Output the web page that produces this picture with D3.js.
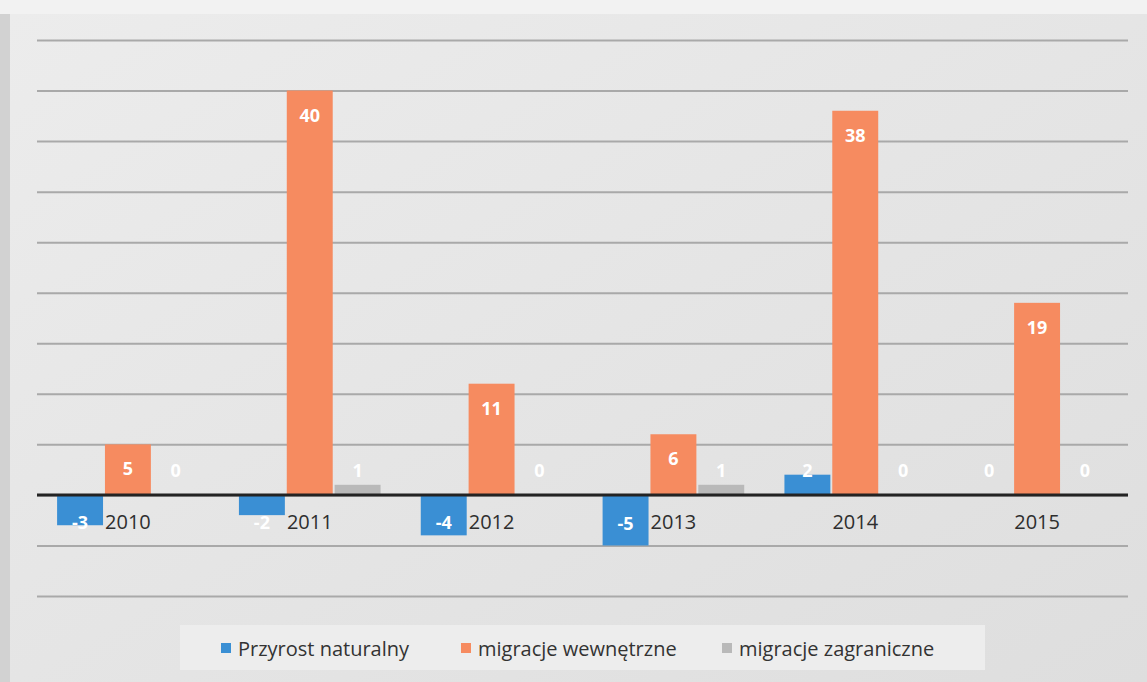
<!DOCTYPE html>
<html>
<head>
<meta charset="utf-8">
<script src="https://cdn.jsdelivr.net/npm/d3@7"></script>
<style>
  body { margin: 0; background: #e4e4e4; }
  svg { display: block; font-family: "Open Sans", Lato, sans-serif; }
  .grid line { stroke: #a9a9a9; stroke-width: 2; }
  .grid path { display: none; }
  .cats text { fill: #2e2e2e; font-size: 20px; font-family: "Open Sans", sans-serif; }
  .cats path, .cats line { display: none; }
  .lbl { fill: #fff; font-size: 18px; font-weight: bold; }
  .legend text { fill: #333; font-size: 20px; }
</style>
</head>
<body>
<svg id="chart"></svg>
<script>
// chart size
var width = 1147;
var height = 682;

// data
var years = ["2010", "2011", "2012", "2013", "2014", "2015"];
var series = ["Przyrost naturalny", "migracje wewnętrzne", "migracje zagraniczne"];
var przyrost = [-3, -2, -4, -5, 2, 0];
var wewnetrzne = [5, 40, 11, 6, 38, 19];
var zagraniczne = [0, 1, 0, 1, 0, 0];
var gridTicks = [-10, -5, 0, 5, 10, 15, 20, 25, 30, 35, 40, 45];

var values = [przyrost, wewnetrzne, zagraniczne];
var colors = ["#3a8fd4", "#f68b60", "#b9b9b9"];

var svg = d3.select("#chart")
    .attr("width", width)
    .attr("height", height);

// paper look
var grad = svg.append("defs").append("linearGradient")
    .attr("id", "paper").attr("x1", 0).attr("y1", 0).attr("x2", 1).attr("y2", 1);
grad.append("stop").attr("offset", 0).attr("stop-color", "#ececec");
grad.append("stop").attr("offset", 1).attr("stop-color", "#dedede");

svg.append("rect").attr("width", width).attr("height", height).attr("fill", "#d2d2d2");
svg.append("rect").attr("x", 10).attr("y", 14).attr("width", width - 10).attr("height", height - 14)
    .attr("fill", "url(#paper)");
svg.append("rect").attr("x", 0).attr("y", 0).attr("width", width).attr("height", 14).attr("fill", "#f2f2f2");

// scales
var x0 = d3.scaleBand()
    .domain(years)
    .range([37, 1128])
    .paddingInner(0.2)
    .paddingOuter(0.1);

var x1 = d3.scaleBand()
    .domain(series)
    .range([0, x0.bandwidth()])
    .padding(0.04);

var y = d3.scaleLinear()
    .domain([-10, 45])
    .range([596, 40]);

// gridlines
svg.append("g")
    .attr("class", "grid")
    .attr("transform", "translate(37,0)")
    .call(d3.axisLeft(y).tickValues(gridTicks).tickSize(-(1128 - 37)).tickFormat(""));

// bars
var groups = svg.append("g").selectAll("g")
    .data(years)
  .enter().append("g")
    .attr("transform", d => "translate(" + x0(d) + ",0)");

var bars = groups.selectAll("g")
    .data((d, i) => series.map((s, j) => ({ s: s, v: values[j][i], c: colors[j] })))
  .enter().append("g");

bars.append("rect")
    .attr("x", d => x1(d.s))
    .attr("width", x1.bandwidth())
    .attr("y", d => y(Math.max(0, d.v)))
    .attr("height", d => Math.abs(y(d.v) - y(0)))
    .attr("fill", d => d.c);

// zero line
svg.append("line")
    .attr("x1", 37).attr("x2", 1128)
    .attr("y1", y(0)).attr("y2", y(0))
    .attr("stroke", "#232323")
    .attr("stroke-width", 3);

// data labels (inside end)
bars.append("text")
    .attr("class", "lbl")
    .attr("text-anchor", "middle")
    .attr("dominant-baseline", "central")
    .attr("x", d => x1(d.s) + x1.bandwidth() / 2)
    .attr("y", d => d.v >= 0 ? Math.min(y(d.v) + 24, 470) : Math.max(y(d.v) - 22, 522))
    .text(d => d.v);

// category labels
svg.append("g")
    .attr("class", "cats")
    .attr("transform", "translate(0," + y(0) + ")")
    .call(d3.axisBottom(x0).tickSize(0).tickPadding(20));

// legend
svg.append("rect")
    .attr("x", 180).attr("y", 625).attr("width", 805).attr("height", 45)
    .attr("fill", "#ededed");

var legendX = [221, 461, 722];
var legend = svg.append("g")
    .attr("class", "legend")
    .selectAll("g")
    .data(series)
  .enter().append("g")
    .attr("transform", (d, i) => "translate(" + legendX[i] + ",648)");

legend.append("rect")
    .attr("y", -5).attr("width", 10).attr("height", 10)
    .attr("fill", (d, i) => colors[i]);

legend.append("text")
    .attr("x", 17)
    .attr("dominant-baseline", "central")
    .text(d => d);
</script>
</body>
</html>
